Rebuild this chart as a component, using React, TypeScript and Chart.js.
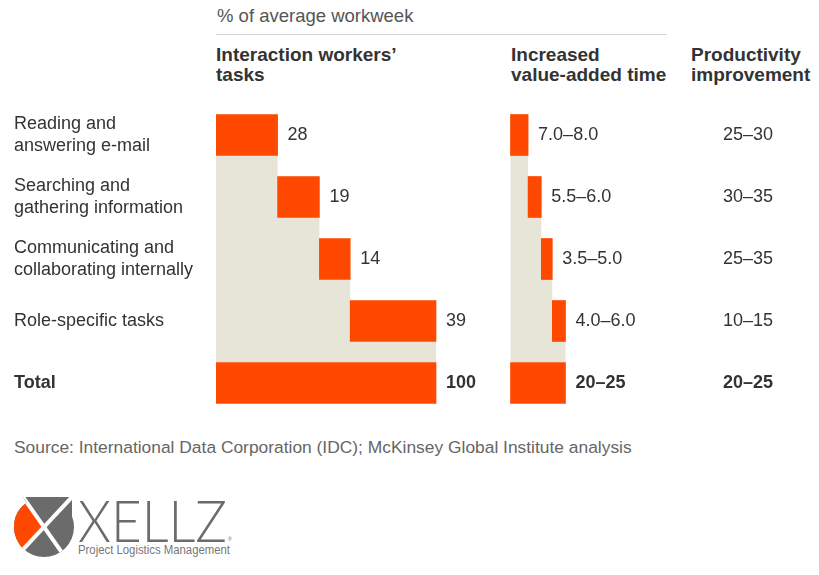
import React, { useEffect, useRef } from "react";
import { Chart, registerables } from "chart.js";

Chart.register(...registerables);

// ---------- data ----------
const categories: string[][] = [
  ["Reading and", "answering e-mail"],
  ["Searching and", "gathering information"],
  ["Communicating and", "collaborating internally"],
  ["Role-specific tasks"],
  ["Total"],
];
const taskShares = [28, 19, 14, 39];
const taskTotal = 100;
const valueAddedLow = [7.0, 5.5, 3.5, 4.0];
const valueAddedHigh = [8.0, 6.0, 5.0, 6.0];
const valueAddedTotal = [20, 25];
const productivityLow = [25, 30, 25, 10, 20];
const productivityHigh = [30, 35, 35, 15, 25];

// ---------- style ----------
const ORANGE = "#ff4800";
const BEIGE = "#e6e5d7";
const TEXT = "#333333";
const FONT = "'Liberation Sans', Arial, Helvetica, sans-serif";
const CANVAS_W = 819;
const CANVAS_H = 420;
const PANEL_LEFT = 216; // left edge of first panel
const PANEL2_ZERO = 510.5; // zero of second panel
const PX_PER_UNIT = 2.2;
const PROD_CENTER_X = 748;

function cumulativeRanges(values: number[], total: number): number[][] {
  let acc = 0;
  const out = values.map((v) => {
    const r = [acc, acc + v];
    acc += v;
    return r;
  });
  out.push([0, total]);
  return out;
}

const taskBars = cumulativeRanges(taskShares, taskTotal);
const valueBars = cumulativeRanges(valueAddedHigh, valueAddedTotal[1]);
const taskLabels = [...taskShares.map(String), String(taskTotal)];
const valueLabels = [
  ...valueAddedLow.map((l, i) => `${l.toFixed(1)}–${valueAddedHigh[i].toFixed(1)}`),
  `${valueAddedTotal[0]}–${valueAddedTotal[1]}`,
];
const productivityLabels = productivityLow.map((l, i) => `${l}–${productivityHigh[i]}`);
const labelSets = [taskLabels, valueLabels];

const staircasePlugin = {
  id: "staircase",
  beforeDatasetsDraw(chart: any) {
    const ctx = chart.ctx;
    chart.data.datasets.forEach((_: any, di: number) => {
      const els = chart.getDatasetMeta(di).data as any[];
      const n = els.length;
      const tops = els.map((e) => e.y - e.height / 2);
      const ends = els.map((e) => Math.max(e.x, e.base));
      const x0 = Math.min(els[n - 1].x, els[n - 1].base);
      ctx.save();
      ctx.fillStyle = BEIGE;
      ctx.beginPath();
      ctx.moveTo(x0, tops[0]);
      for (let i = 0; i < n - 1; i++) {
        ctx.lineTo(ends[i], tops[i]);
        ctx.lineTo(ends[i], tops[i + 1]);
      }
      ctx.lineTo(x0, tops[n - 1]);
      ctx.closePath();
      ctx.fill();
      ctx.restore();
    });
  },
  afterDatasetsDraw(chart: any) {
    const ctx = chart.ctx;
    ctx.save();
    ctx.textBaseline = "middle";
    ctx.fillStyle = TEXT;
    chart.data.datasets.forEach((_: any, di: number) => {
      const els = chart.getDatasetMeta(di).data as any[];
      els.forEach((e, i) => {
        const last = i === els.length - 1;
        ctx.font = `${last ? "bold " : ""}18px ${FONT}`;
        ctx.textAlign = "left";
        ctx.fillText(labelSets[di][i], Math.max(e.x, e.base) + 10, e.y);
      });
    });
    const els0 = chart.getDatasetMeta(0).data as any[];
    els0.forEach((e, i) => {
      const last = i === els0.length - 1;
      ctx.font = `${last ? "bold " : ""}18px ${FONT}`;
      ctx.textAlign = "center";
      ctx.fillText(productivityLabels[i], PROD_CENTER_X, e.y);
    });
    ctx.restore();
  },
};

function ChartCanvas() {
  const ref = useRef<HTMLCanvasElement>(null);
  useEffect(() => {
    if (!ref.current) return;
    const span = (CANVAS_W - PANEL_LEFT) / PX_PER_UNIT;
    const x2Min = -(PANEL2_ZERO - PANEL_LEFT) / PX_PER_UNIT;
    const chart = new Chart(ref.current, {
      type: "bar",
      data: {
        labels: categories as any,
        datasets: [
          {
            data: taskBars as any,
            backgroundColor: ORANGE,
            xAxisID: "x",
            grouped: false,
            barPercentage: 1,
            categoryPercentage: 1,
            maxBarThickness: 41,
            borderWidth: 0,
          } as any,
          {
            data: valueBars as any,
            backgroundColor: ORANGE,
            xAxisID: "x2",
            grouped: false,
            barPercentage: 1,
            categoryPercentage: 1,
            maxBarThickness: 41,
            borderWidth: 0,
          } as any,
        ],
      },
      options: {
        indexAxis: "y",
        animation: false,
        responsive: false,
        events: [],
        layout: { padding: { left: 14, top: 104, bottom: 6, right: 0 } },
        plugins: { legend: { display: false }, tooltip: { enabled: false } },
        scales: {
          x: { type: "linear", display: false, min: 0, max: span },
          x2: { type: "linear", display: false, min: x2Min, max: x2Min + span },
          y: {
            type: "category",
            grid: { display: false },
            border: { display: false },
            ticks: {
              crossAlign: "far",
              padding: 0,
              color: TEXT,
              font: (c: any) => ({
                family: FONT,
                size: 18,
                lineHeight: 1.22,
                weight: c.index === categories.length - 1 ? "bold" : "normal",
              }),
            },
            afterFit: (s: any) => {
              s.width = PANEL_LEFT - 14;
              s.paddingTop = 0;
              s.paddingBottom = 0;
            },
          } as any,
        },
      } as any,
      plugins: [staircasePlugin],
    });
    return () => chart.destroy();
  }, []);
  return <canvas ref={ref} width={CANVAS_W} height={CANVAS_H} style={{ position: "absolute", left: 0, top: 0 }} />;
}

function Logo() {
  return (
    <svg width={250} height={80} style={{ position: "absolute", left: 0, top: 490 }}>
      <defs>
        <clipPath id="logoClip">
          <circle cx={44} cy={37} r={30} />
          <polygon points="23,7 72,7 72,46 44,37" />
        </clipPath>
      </defs>
      <g clipPath="url(#logoClip)">
        <rect x={0} y={0} width={90} height={80} fill="#6b6b6b" />
        <polygon points="44,37 2,-23 -12,97" fill={ORANGE} />
        <line x1={9} y1={-13} x2={79} y2={87} stroke="#fff" strokeWidth={4} />
        <line x1={86} y1={-8} x2={2} y2={82} stroke="#fff" strokeWidth={4} />
      </g>
      <text x={78} y={52} fontFamily="Lato, 'DejaVu Sans', sans-serif" fontWeight={300} fontSize={58} fill="#6b6b6b" textLength={149} lengthAdjust="spacingAndGlyphs">XELLZ</text>
      <text x={228} y={51} fontFamily={FONT} fontSize={5} fill="#6b6b6b">®</text>
      <text x={78} y={64} fontFamily={FONT} fontSize={12.5} fill="#777" textLength={152} lengthAdjust="spacingAndGlyphs">Project Logistics Management</text>
    </svg>
  );
}

export default function App() {
  const header: React.CSSProperties = {
    position: "absolute",
    fontFamily: FONT,
    fontWeight: "bold",
    fontSize: 19,
    lineHeight: "20px",
    color: TEXT,
    top: 45,
    whiteSpace: "nowrap",
  };
  return (
    <div style={{ position: "absolute", left: 0, top: 0, width: 819, height: 575, background: "#fff", overflow: "hidden" }}>
      <div style={{ position: "absolute", left: 217, top: 6, fontFamily: FONT, fontSize: 18.5, lineHeight: "20px", color: "#555", whiteSpace: "nowrap" }}>
        % of average workweek
      </div>
      <div style={{ position: "absolute", left: 216, top: 34, width: 451, height: 1, background: "#d4d4d4" }} />
      <div style={{ ...header, left: 216 }}>Interaction workers’<br />tasks</div>
      <div style={{ ...header, left: 511 }}>Increased<br />value-added time</div>
      <div style={{ ...header, left: 691 }}>Productivity<br />improvement</div>
      <ChartCanvas />
      <div style={{ position: "absolute", left: 14, top: 437, fontFamily: FONT, fontSize: 17.4, lineHeight: "20px", color: "#666", whiteSpace: "nowrap" }}>
        Source: International Data Corporation (IDC); McKinsey Global Institute analysis
      </div>
      <Logo />
    </div>
  );
}
